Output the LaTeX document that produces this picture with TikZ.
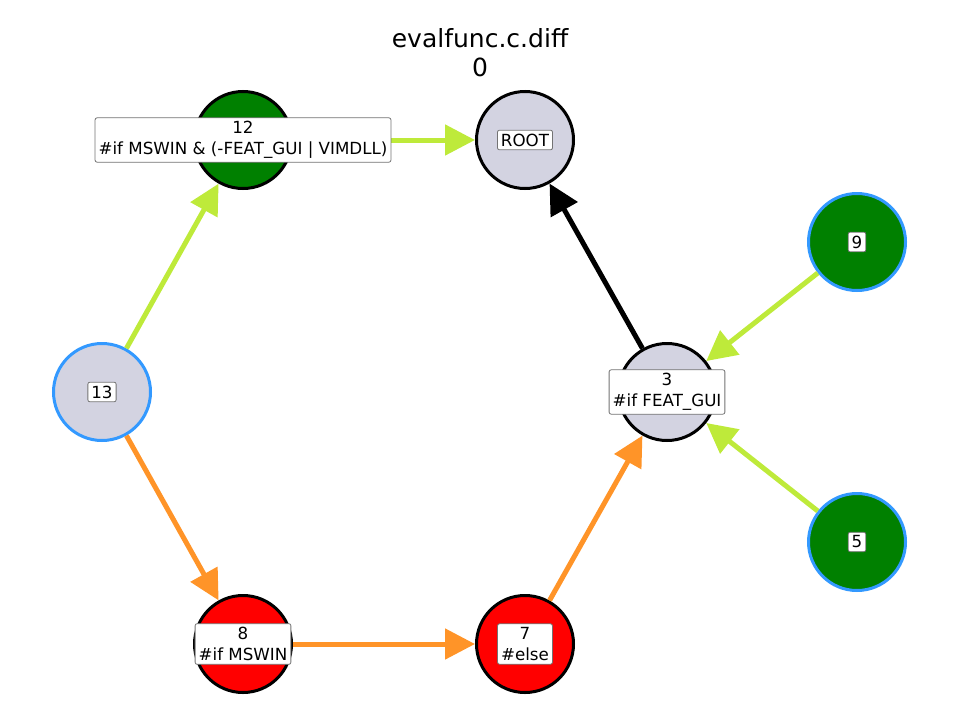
\documentclass[tikz,border=0pt]{standalone}
\usepackage{fontspec}
\setmainfont{DejaVu Sans}
\usepackage{tikz}
\usetikzlibrary{arrows.meta}

\definecolor{nodegray}{RGB}{211,211,225}
\definecolor{nodegreen}{RGB}{0,128,0}
\definecolor{nodered}{RGB}{255,0,0}
\definecolor{ringblue}{RGB}{51,153,255}
\definecolor{edgelime}{RGB}{190,234,58}
\definecolor{edgeorange}{RGB}{255,148,40}

\begin{document}
\begin{tikzpicture}[x=1pt, y=-1pt,
    vertex/.style={circle, minimum size=97pt, inner sep=0pt, line width=3pt},
    tag/.style={draw=black!55, fill=white, rounded corners=2pt, line width=0.8pt,
        inner sep=3.5pt, align=center, font=\fontsize{16.7}{21}\selectfont},
    edge/.style={line width=5pt, -{Triangle[length=30pt,width=30pt]}}]
            \useasboundingbox (0,0) rectangle (960,720);

            \node[align=center, font=\fontsize{25}{29}\selectfont] (title) at (480,53) {evalfunc.c.diff\\0};

            \foreach \n/\x/\y/\c/\b in {ROOT/525/140/nodegray/black, 12/243/140/nodegreen/black,
                    13/102/392/nodegray/ringblue, 8/243/644/nodered/black, 7/525/644/nodered/black,
                    3/667/392/nodegray/black, 9/857/242/nodegreen/ringblue, 5/857/542/nodegreen/ringblue} {
                \node[vertex, fill=\c, draw=\b] (c\n) at (\x,\y) {};
            }

            \draw[edge, edgelime] (c12) -- (cROOT);
            \draw[edge, edgelime] (c13) -- (c12);
            \draw[edge, edgeorange] (c13) -- (c8);
            \draw[edge, edgeorange] (c8) -- (c7);
            \draw[edge, edgeorange] (c7) -- (c3);
            \draw[edge, black] (c3) -- (cROOT);
            \foreach \i in {9,5} {
                    \draw[edge, edgelime] (c\i) -- (c3);
            }

            \node[tag] (tROOT) at (cROOT) {ROOT};
            \node[tag] (t12) at (c12) {12\\\#if MSWIN \& (-FEAT\_GUI | VIMDLL)};
            \node[tag] (t13) at (c13) {13};
            \node[tag] (t8) at (c8) {8\\\#if MSWIN};
            \node[tag] (t7) at (c7) {7\\\#else};
            \node[tag] (t3) at (c3) {3\\\#if FEAT\_GUI};
            \node[tag] (t9) at (c9) {9};
            \node[tag] (t5) at (c5) {5};

        \end{tikzpicture}
\end{document}
